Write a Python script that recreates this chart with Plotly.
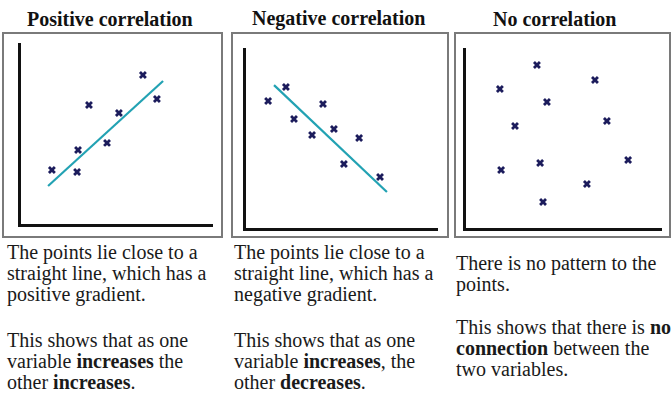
import plotly.graph_objects as go

W, H = 671, 394

# ---- data (axis units 0..10 inside each L-shaped axis) ----
titles = ["Positive correlation", "Negative correlation", "No correlation"]

pos_x = [1.61, 2.92, 2.97, 3.54, 4.48, 5.10, 6.35, 7.08]
pos_y = [2.98, 2.87, 4.09, 6.57, 4.48, 6.13, 8.23, 6.91]
pos_line_x = [1.41, 7.40]
pos_line_y = [2.10, 7.90]

neg_x = [1.15, 2.08, 2.50, 3.44, 4.01, 4.58, 5.10, 5.89, 6.98]
neg_y = [7.06, 7.83, 6.06, 5.17, 6.89, 5.50, 3.56, 5.00, 2.83]
neg_line_x = [1.46, 7.34]
neg_line_y = [7.94, 2.00]

none_x = [3.62, 1.73, 6.58, 4.13, 2.50, 7.19, 8.27, 1.79, 3.78, 6.17, 3.93]
none_y = [9.06, 7.72, 8.22, 7.00, 5.67, 5.94, 3.78, 3.22, 3.61, 2.44, 1.44]

captions = [
    ["The points lie close to a", "straight line, which has a", "positive gradient.",
     "This shows that as one", "variable <b>increases</b> the", "other <b>increases</b>."],
    ["The points lie close to a", "straight line, which has a", "negative gradient.",
     "This shows that as one", "variable <b>increases</b>, the", "other <b>decreases</b>."],
    ["There is no pattern to the", "points.",
     "This shows that there is <b>no</b>", "<b>connection</b> between the", "two variables."],
]

# ---- layout geometry in pixels ----
axes_px = [  # x0, x1, ytop, ybottom of the L axes
    (21, 213, 43, 224),
    (246, 438, 48, 228),
    (466, 662, 48, 228),
]
boxes_px = [(3, 222, 33, 237), (232, 448, 33, 237), (455, 670, 33, 237)]
title_cx = [110, 339, 555]
text_x = [5, 232, 454]
text_y = [[252, 273, 294, 340, 361, 382],
          [252, 273, 294, 340, 361, 382],
          [263, 284, 327, 348, 369]]

MARK = "#1c1c5c"
LINE = "#22a2b3"
SERIF = "Liberation Serif"
FS = 20

def px(x):
    return x / W

def py(y):
    return 1 - y / H

fig = go.Figure()

series = [
    (pos_x, pos_y, pos_line_x, pos_line_y),
    (neg_x, neg_y, neg_line_x, neg_line_y),
    (none_x, none_y, None, None),
]

for i, (sx, sy, lx, ly) in enumerate(series):
    xa = "x" if i == 0 else f"x{i+1}"
    ya = "y" if i == 0 else f"y{i+1}"
    if lx is not None:
        fig.add_trace(go.Scatter(x=lx, y=ly, mode="lines", xaxis=xa, yaxis=ya,
                                 line=dict(color=LINE, width=2.2), hoverinfo="skip"))
    fig.add_trace(go.Scatter(x=sx, y=sy, mode="markers", xaxis=xa, yaxis=ya,
                             marker=dict(symbol="x", size=7, color=MARK)))

    x0, x1, yt, yb = axes_px[i]
    ax_common = dict(showgrid=False, zeroline=False, showticklabels=False, ticks="",
                     showline=True, linecolor="#111", linewidth=3, range=[0, 10],
                     fixedrange=True)
    fig.layout[f"xaxis{'' if i == 0 else i+1}"] = dict(
        domain=[px(x0), px(x1)], anchor=ya, **ax_common)
    fig.layout[f"yaxis{'' if i == 0 else i+1}"] = dict(
        domain=[py(yb), py(yt)], anchor=xa, **ax_common)

    bx0, bx1, byt, byb = boxes_px[i]
    fig.add_shape(type="rect", xref="paper", yref="paper",
                  x0=px(bx0), x1=px(bx1), y0=py(byb), y1=py(byt),
                  line=dict(color="#7a7a7a", width=2))

    fig.add_annotation(text=f"<b>{titles[i]}</b>", xref="paper", yref="paper",
                       x=px(title_cx[i]), y=py(19), xanchor="center", yanchor="middle",
                       showarrow=False, font=dict(family=SERIF, size=FS, color="#111"))

    for line, ly_px in zip(captions[i], text_y[i]):
        fig.add_annotation(text=line, xref="paper", yref="paper",
                           x=px(text_x[i]), y=py(ly_px), xanchor="left", yanchor="middle",
                           showarrow=False, font=dict(family=SERIF, size=FS, color="#1a1a1a"))

fig.update_layout(
    width=W, height=H,
    margin=dict(l=0, r=0, t=0, b=0),
    paper_bgcolor="white", plot_bgcolor="white",
    showlegend=False,
    font=dict(family=SERIF),
)

fig.write_html("out.html", config={"displayModeBar": False},
               post_script="document.body.style.margin='0';")
